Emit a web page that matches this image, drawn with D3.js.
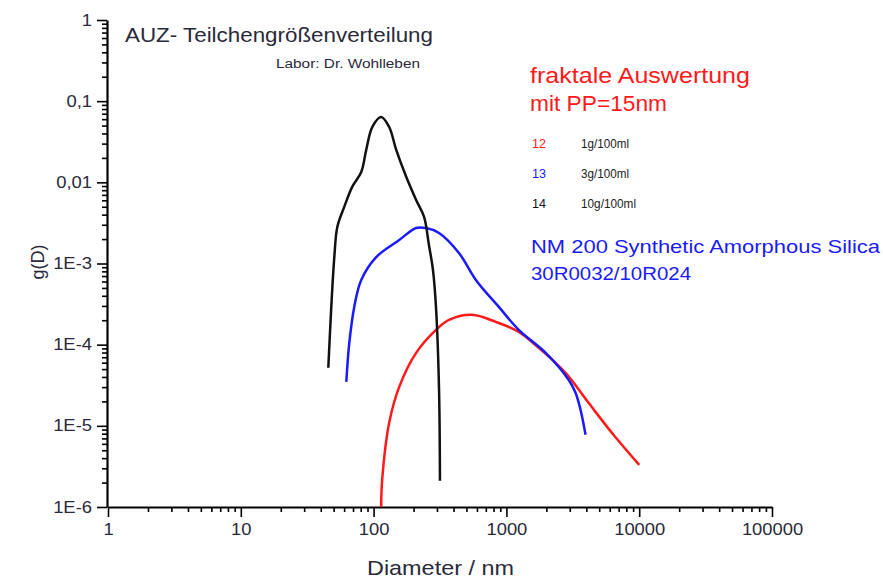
<!DOCTYPE html>
<html>
<head>
<meta charset="utf-8">
<script src="https://cdn.jsdelivr.net/npm/d3@7"></script>
<style>
  body { margin: 0; background: #fff; }
  text { font-family: "Liberation Sans", Arial, sans-serif; }
</style>
</head>
<body>
<svg width="883" height="579"></svg>
<script>
// sample 12: 1g/100ml (red)
const d12 = [114, 116, 131, 156, 209, 295, 370, 550, 832, 1239, 1750, 2790, 4155, 6400, 10000];
const g12 = [1.0e-6, 2.16e-6, 1.09e-5, 3.02e-5, 7.92e-5, 1.52e-4, 2.02e-4, 2.33e-4, 1.91e-4, 1.44e-4, 9.14e-5, 4.5e-5, 1.92e-5, 7.75e-6, 3.3e-6];
// sample 13: 3g/100ml (blue)
const d13 = [62.3, 65.6, 71.5, 80.7, 104.6, 156, 209, 248, 311, 439, 589, 877, 1239, 1977, 2940, 3316, 3620, 3945];
const g13 = [3.48e-5, 1.05e-4, 2.92e-4, 6.28e-4, 1.2e-3, 1.95e-3, 2.74e-3, 2.74e-3, 2.38e-3, 1.35e-3, 6.28e-4, 2.92e-4, 1.52e-4, 7.92e-5, 3.69e-5, 2.55e-5, 1.57e-5, 7.75e-6];
// sample 14: 10g/100ml (black)
const d14 = [45.6, 48, 50.6, 53.3, 60.1, 69.0, 80.7, 88, 97.7, 114, 131, 148, 176, 209, 240, 261, 280, 295, 311, 316];
const g14 = [5.2e-5, 2.9e-4, 1.2e-3, 2.82e-3, 4.98e-3, 8.78e-3, 0.0134, 0.0251, 0.048, 0.0638, 0.048, 0.0251, 0.0117, 6.07e-3, 3.75e-3, 1.69e-3, 8.3e-4, 2.9e-4, 2.8e-5, 2.1e-6];

const xMajor = [1, 10, 100, 1000, 10000, 100000];
const xLabels = ["1", "10", "100", "1000", "10000", "100000"];
const yMajor = [1e-6, 1e-5, 1e-4, 1e-3, 0.01, 0.1, 1];
const yLabels = ["1E-6", "1E-5", "1E-4", "1E-3", "0,01", "0,1", "1"];

const series = [
  { d: d12, g: g12, color: "#ff1a1a" },
  { d: d13, g: g13, color: "#1a1aff" },
  { d: d14, g: g14, color: "#111" }
];

const svg = d3.select("svg");

const x = d3.scaleLog().domain([1, 100000]).range([108, 772]);
const y = d3.scaleLog().domain([1e-6, 1]).range([507, 20]);

function minors(lo, hi) {
  const out = [];
  for (let p = lo; p < hi; p *= 10)
    for (let k = 2; k <= 9; k++) out.push(p * k);
  return out;
}

// the source renders its text a bit wider than Arial
function stretch(sel, k) {
  sel.each(function () {
    const w = this.getComputedTextLength();
    d3.select(this).attr("textLength", w * k).attr("lengthAdjust", "spacingAndGlyphs");
  });
}
function fit(sel, w) {
  sel.attr("textLength", w).attr("lengthAdjust", "spacingAndGlyphs");
}

// x axis
svg.append("g")
  .attr("transform", "translate(0,507)")
  .call(d3.axisBottom(x).tickValues(minors(1, 100000)).tickSize(5).tickFormat(""))
  .call(g => g.select(".domain").remove());
const xa = svg.append("g")
  .attr("transform", "translate(0,507)")
  .call(d3.axisBottom(x).tickValues(xMajor).tickSize(10).tickSizeOuter(0).tickPadding(6)
    .tickFormat((d, i) => xLabels[i]))
  .call(g => g.select(".domain").attr("stroke-width", 2.2));
xa.selectAll(".tick text").attr("font-size", 17);

// y axis
svg.append("g")
  .attr("transform", "translate(107,0)")
  .call(d3.axisLeft(y).tickValues(minors(1e-6, 1)).tickSize(5).tickFormat(""))
  .call(g => g.select(".domain").remove());
const ya = svg.append("g")
  .attr("transform", "translate(107,0)")
  .call(d3.axisLeft(y).tickValues(yMajor).tickSize(10).tickSizeOuter(0).tickPadding(5)
    .tickFormat((d, i) => yLabels[i]))
  .call(g => g.select(".domain").attr("stroke-width", 2.2));
ya.selectAll(".tick text").attr("font-size", 16);

svg.selectAll(".tick line").attr("stroke", "#000").attr("stroke-width", 1.6);
svg.selectAll(".tick text").attr("fill", "#2a2a3a")
  .style("font-family", "'Liberation Sans', Arial, sans-serif");
stretch(xa.selectAll(".tick text"), 1.08);
stretch(ya.selectAll(".tick text"), 1.15);

// curves
const line = d3.line()
  .x(p => x(p[0]))
  .y(p => y(p[1]))
  .curve(d3.curveCatmullRom.alpha(0.5));

series.forEach(s => {
  svg.append("path")
    .datum(s.d.map((v, i) => [v, s.g[i]]))
    .attr("fill", "none")
    .attr("stroke", s.color)
    .attr("stroke-width", 2.5)
    .attr("d", line);
});

// axis titles
svg.append("text").attr("x", 367).attr("y", 575)
  .attr("font-size", 21).attr("fill", "#2a2a3a").text("Diameter / nm").call(fit, 147);
svg.append("text").attr("transform", "translate(44,262) rotate(-90)").attr("text-anchor", "middle")
  .attr("font-size", 18).attr("fill", "#2a2a3a").text("g(D)");

// headings
svg.append("text").attr("x", 125).attr("y", 42).attr("font-size", 21).attr("fill", "#2a2a3a")
  .text("AUZ- Teilchengrößenverteilung").call(fit, 308);
svg.append("text").attr("x", 276).attr("y", 68).attr("font-size", 12).attr("fill", "#2a2a3a")
  .text("Labor: Dr. Wohlleben").call(fit, 144);

svg.append("text").attr("x", 530).attr("y", 83).attr("font-size", 22).attr("fill", "#ff1a1a")
  .text("fraktale Auswertung").call(fit, 220);
svg.append("text").attr("x", 530).attr("y", 111).attr("font-size", 22).attr("fill", "#ff1a1a")
  .text("mit PP=15nm").call(fit, 137);

const legend = [
  { id: "12", label: "1g/100ml", color: "#ff1a1a", w: 48 },
  { id: "13", label: "3g/100ml", color: "#1a1aff", w: 48 },
  { id: "14", label: "10g/100ml", color: "#111", w: 55 }
];
legend.forEach((l, i) => {
  const yy = 148 + i * 30;
  svg.append("text").attr("x", 532).attr("y", yy).attr("font-size", 12).attr("fill", l.color)
    .text(l.id).call(fit, 14);
  svg.append("text").attr("x", 581).attr("y", yy).attr("font-size", 12).attr("fill", "#222")
    .text(l.label).call(fit, l.w);
});

svg.append("text").attr("x", 531).attr("y", 253).attr("font-size", 19).attr("fill", "#1a1aff")
  .text("NM 200 Synthetic Amorphous Silica").call(fit, 349);
svg.append("text").attr("x", 531).attr("y", 280).attr("font-size", 19).attr("fill", "#1a1aff")
  .text("30R0032/10R024").call(fit, 160);
</script>
</body>
</html>
